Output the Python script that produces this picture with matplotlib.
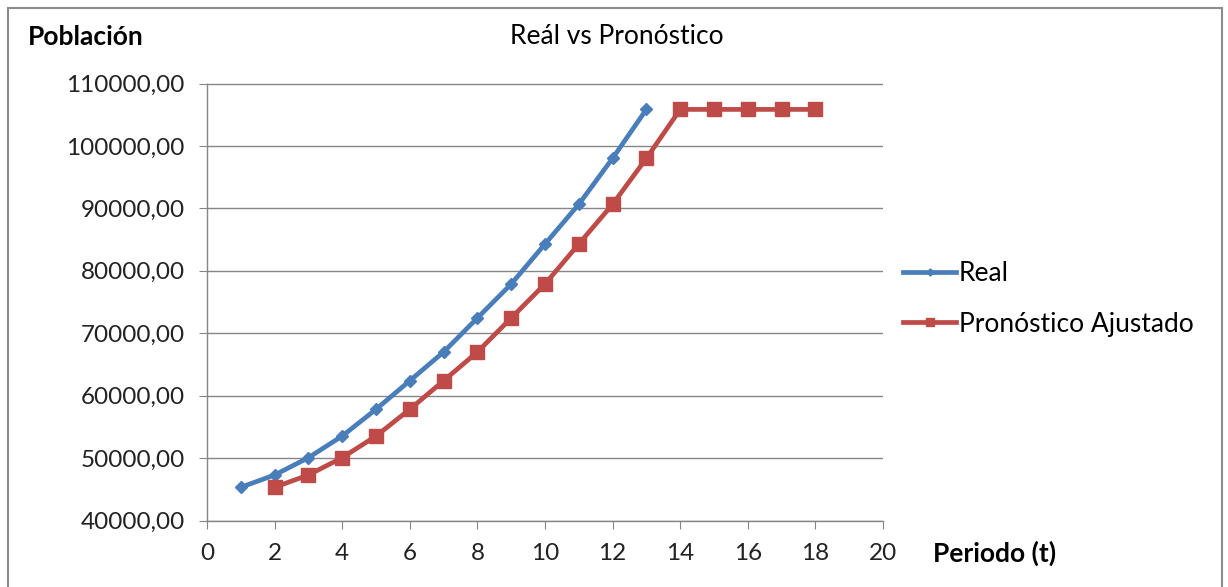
import matplotlib.pyplot as plt
from matplotlib.patches import Rectangle
from matplotlib.ticker import FuncFormatter, MultipleLocator

plt.rcParams["font.family"] = ["Lato", "DejaVu Sans"]

# Población real por periodo
periodo_real = [1, 2, 3, 4, 5, 6, 7, 8, 9, 10, 11, 12, 13]
poblacion_real = [45320, 47290, 50060, 53530, 57810, 62390, 66990,
                  72440, 77880, 84290, 90650, 98020, 105850]

# Pronóstico ajustado
periodo_pron = [2, 3, 4, 5, 6, 7, 8, 9, 10, 11, 12, 13, 14, 15, 16, 17, 18]
poblacion_pron = [45320, 47290, 50060, 53530, 57810, 62390, 66990,
                  72440, 77880, 84290, 90650, 98020, 105850, 105850,
                  105850, 105850, 105850]

W, H = 1228, 587
fig = plt.figure(figsize=(W / 100, H / 100), dpi=100)
fig.patch.set_facecolor("white")

# marco exterior del gráfico
fig.patches.append(Rectangle((8 / W, -0.05), 1214 / W, (H - 8) / H + 0.05,
                             transform=fig.transFigure, fill=False,
                             edgecolor="#8c8c8c", lw=1.5))

ax = fig.add_axes([207 / W, (H - 520.5) / H, 676 / W, 437 / H])

ax.plot(periodo_real, poblacion_real, color="#4A7EBB", lw=3.4,
        marker="D", markersize=6, label="Real", zorder=3)
ax.plot(periodo_pron, poblacion_pron, color="#BE4B48", lw=3.4,
        marker="s", markersize=10, label="Pronóstico Ajustado", zorder=3)

ax.set_xlim(0, 20)
ax.set_ylim(40000, 110000)
ax.xaxis.set_major_locator(MultipleLocator(2))
ax.yaxis.set_major_locator(MultipleLocator(10000))
ax.yaxis.set_major_formatter(FuncFormatter(lambda v, p: f"{v:.2f}".replace(".", ",")))

ax.grid(axis="y", color="#868686", lw=1)
ax.set_axisbelow(True)
for s in ["top", "right"]:
    ax.spines[s].set_visible(False)
for s in ["left", "bottom"]:
    ax.spines[s].set_color("#868686")
    ax.spines[s].set_linewidth(1)
ax.tick_params(axis="both", direction="out", length=6, color="#868686",
               labelsize=17.5, labelcolor="#222222")
ax.tick_params(axis="y", pad=10)
ax.tick_params(axis="x", pad=10)

fig.text(28 / W, 1 - 37 / H, "Población", fontsize=19, fontweight="bold",
         va="center", ha="left")
fig.text(617 / W, 1 - 37 / H, "Reál vs Pronóstico", fontsize=19,
         va="center", ha="center")
fig.text(933 / W, 1 - 553 / H, "Periodo (t)", fontsize=19, fontweight="bold",
         va="center", ha="left")

fig.legend(loc="center left", bbox_to_anchor=(890 / W, 1 - 299 / H),
           frameon=False, fontsize=19, handlelength=2.0, handletextpad=0.1,
           labelspacing=0.95, borderpad=0, markerscale=0.6)

plt.savefig("out.png", dpi=100)
